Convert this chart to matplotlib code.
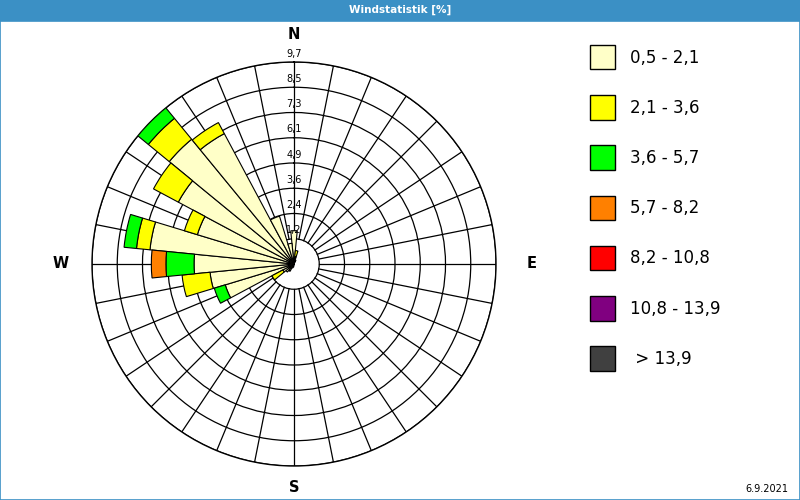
import numpy as np
import matplotlib
matplotlib.use('Agg')
import matplotlib.pyplot as plt
from matplotlib.patches import Patch, Rectangle

# wind directions (32 sectors, degrees from north, clockwise)
directions = np.arange(32) * 11.25

# share in % per speed class and direction (stacked segments)
pale   = [1.6, 0.35, 0.2, 0, 0, 0, 0, 0, 0, 0, 0, 0, 0, 0, 0, 0,
          0, 0.15, 0.2, 0.4, 0.5, 0.6, 3.45, 4.05, 4.8, 6.95, 4.85, 6.3, 7.75, 7.1, 2.4, 1.0]
yellow = [0, 0.3, 0, 0, 0, 0, 0, 0, 0, 0, 0, 0, 0, 0, 0, 0,
          0, 0, 0, 0, 0, 0.6, 0, 1.35, 0, 0.65, 0.65, 1.35, 1.3, 0.6, 0, 0]
green  = [0, 0, 0, 0, 0, 0, 0, 0, 0, 0, 0, 0, 0, 0, 0, 0,
          0, 0, 0, 0, 0, 0, 0.55, 0, 1.35, 0.6, 0, 0, 0.65, 0, 0, 0]
orange = [0, 0, 0, 0, 0, 0, 0, 0, 0, 0, 0, 0, 0, 0, 0, 0,
          0, 0, 0, 0, 0, 0, 0, 0, 0.7, 0, 0, 0, 0, 0, 0, 0]

classes = ['0,5 - 2,1', '2,1 - 3,6', '3,6 - 5,7', '5,7 - 8,2', '8,2 - 10,8', '10,8 - 13,9', ' > 13,9']
colors = ['#ffffc8', '#ffff00', '#00ff00', '#ff8000', '#ff0000', '#800080', '#404040']

rmax = 9.7
rings = rmax / 8 * np.arange(1, 9)
ring_labels = ['1,2', '2,4', '3,6', '4,9', '6,1', '7,3', '8,5', '9,7']

W, H = 800, 500
fig = plt.figure(figsize=(8, 5), dpi=100)

# title bar
fig.patches.append(Rectangle((0, 1 - 21 / H), 1, 21 / H, transform=fig.transFigure,
                             facecolor='#3b90c5', edgecolor='none', zorder=0))
fig.patches.append(Rectangle((0.0006, 0.001), 0.9988, 1 - 21 / H, transform=fig.transFigure,
                             facecolor='none', edgecolor='#3b90c5', lw=1.2, zorder=0))
fig.text(0.5, 1 - 10 / H, 'Windstatistik [%]', color='white', fontsize=7.5,
         fontweight='bold', ha='center', va='center')

cx, cy, R = 294, 264, 202
ax = fig.add_axes([(cx - R) / W, (H - cy - R) / H, 2 * R / W, 2 * R / H], projection='polar')
ax.set_theta_zero_location('N')
ax.set_theta_direction(-1)
ax.set_ylim(0, rmax)
ax.set_xticks([])
ax.set_yticks(rings)
ax.set_yticklabels([])
ax.yaxis.grid(True, color='black', lw=0.9)
ax.xaxis.grid(False)
ax.set_axisbelow(True)
ax.spines['polar'].set_linewidth(1.0)

# spokes start at the first ring
for d in directions:
    t = np.deg2rad(d)
    ax.plot([t, t], [rings[0], rmax], color='black', lw=0.9, zorder=1)

theta = np.deg2rad(directions)
width = np.deg2rad(11.25)
bottom = np.zeros(32)
for vals, c in zip([pale, yellow, green, orange], colors):
    vals = np.array(vals)
    mask = vals > 0
    ax.bar(theta[mask], vals[mask], width=width, bottom=bottom[mask], color=c,
           edgecolor='black', linewidth=0.8, zorder=3)
    bottom += vals

for r, lab in zip(rings, ring_labels):
    ax.annotate(lab, (0, r), xytext=(0, 2.5), textcoords='offset points',
                ha='center', va='bottom', fontsize=7, zorder=5)

for ang, r, lab in [(0, 11.0, 'N'), (90, 11.4, 'E'), (180, 10.75, 'S'), (270, 11.2, 'W')]:
    ax.text(np.deg2rad(ang), r, lab, ha='center', va='center', fontsize=10.5,
            fontweight='bold', clip_on=False)

handles = [Patch(facecolor=c, edgecolor='black', lw=1) for c in colors]
fig.legend(handles, classes, loc='upper left', bbox_to_anchor=(590 / W, 1 - 45 / H),
           frameon=False, fontsize=12, handlelength=1.5, handleheight=1.875,
           labelspacing=1.55, handletextpad=0.9, borderpad=0, borderaxespad=0)

fig.text(767 / W, 1 - 489 / H, '6.9.2021', fontsize=7, ha='center', va='center')

fig.savefig('out.png', dpi=100)
